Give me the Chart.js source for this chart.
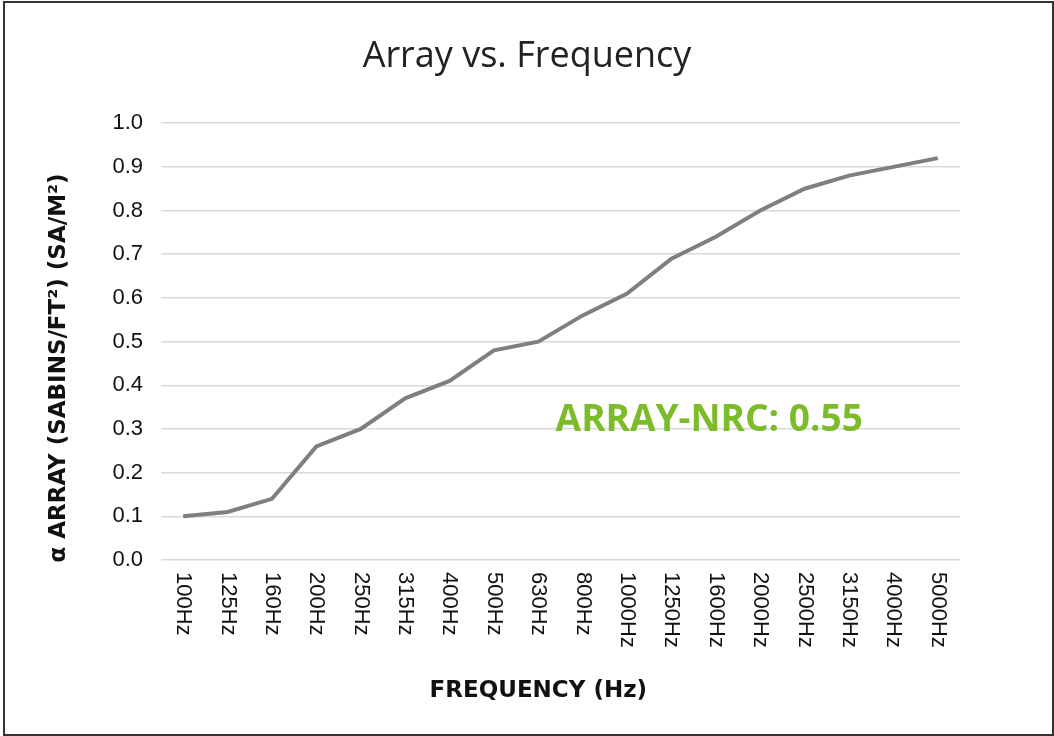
<!DOCTYPE html>
<html>
<head>
<meta charset="utf-8">
<script src="https://cdn.jsdelivr.net/npm/chart.js@4/dist/chart.umd.min.js"></script>
<style>
  html, body { margin: 0; padding: 0; background: #fff; }
  #wrap { position: relative; width: 1054px; height: 736px; }
  #frame { position: absolute; left: 3px; top: 1px; width: 1047px; height: 731px; border: 2px solid #333; pointer-events: none; }
  canvas { position: absolute; left: 0; top: 0; }
</style>
</head>
<body>
<div id="wrap">
  <canvas id="c" width="1054" height="736"></canvas>
  <div id="frame"></div>
</div>
<script>
const categories = ["100Hz","125Hz","160Hz","200Hz","250Hz","315Hz","400Hz","500Hz","630Hz","800Hz","1000Hz","1250Hz","1600Hz","2000Hz","2500Hz","3150Hz","4000Hz","5000Hz"];
const arrayValues = [0.10,0.11,0.14,0.26,0.30,0.37,0.41,0.48,0.50,0.56,0.61,0.69,0.74,0.80,0.85,0.88,0.90,0.92];
const titleText = "Array vs. Frequency";
const xTitle = "FREQUENCY (Hz)";
const yTitle = "\u03B1 ARRAY (SABINS/FT\u00B2) (SA/M\u00B2)";
const nrcText = "ARRAY-NRC: 0.55";
const nrcAnchor = { x: 11.85, y: 0.32 };
const xTitleAnchor = 8;

const axisTitleFont = 'bold 23px "DejaVu Sans", sans-serif';

const customText = {
  id: 'customText',
  afterDraw(chart) {
    const ctx = chart.ctx;
    const xs = chart.scales.x;
    const ys = chart.scales.y;
    ctx.save();
    ctx.fillStyle = '#111';
    ctx.font = '22px "Liberation Sans", Arial, sans-serif';
    ctx.textAlign = 'left';
    ctx.textBaseline = 'middle';
    categories.forEach((lab, i) => {
      const px = xs.getPixelForValue(i);
      ctx.save();
      ctx.translate(px, chart.chartArea.bottom + 12);
      ctx.rotate(Math.PI / 2);
      ctx.fillText(lab, 0, 0);
      ctx.restore();
    });
    ctx.font = axisTitleFont;
    ctx.textAlign = 'center';
    ctx.textBaseline = 'middle';
    ctx.fillText(xTitle, xs.getPixelForValue(xTitleAnchor), xs.bottom - 12);
    ctx.save();
    ctx.translate(ys.left + 14, chart.height / 2);
    ctx.rotate(-Math.PI / 2);
    ctx.fillText(yTitle, 0, 0);
    ctx.restore();
    ctx.restore();
  }
};

const nrcLabel = {
  id: 'nrcLabel',
  afterDatasetsDraw(chart) {
    const ctx = chart.ctx;
    const px = chart.scales.x.getPixelForValue(nrcAnchor.x);
    const py = chart.scales.y.getPixelForValue(nrcAnchor.y);
    ctx.save();
    ctx.fillStyle = '#7cbb2a';
    ctx.font = 'bold 37px "Open Sans", Lato, sans-serif';
    ctx.textAlign = 'center';
    ctx.textBaseline = 'middle';
    ctx.fillText(nrcText, px, py);
    ctx.restore();
  }
};

new Chart(document.getElementById('c'), {
  type: 'line',
  data: {
    labels: categories,
    datasets: [{
      data: arrayValues,
      borderColor: '#7f7f7f',
      borderWidth: 4,
      pointRadius: 0,
      tension: 0,
      fill: false
    }]
  },
  options: {
    responsive: false,
    animation: false,
    layout: { padding: { left: 45, right: 45, top: 0, bottom: 33 } },
    plugins: {
      legend: { display: false },
      tooltip: { enabled: false },
      title: {
        display: true,
        text: titleText,
        color: '#222',
        font: { family: '"Open Sans", Lato, sans-serif', size: 36, weight: 'normal', lineHeight: 1.2 },
        padding: { top: 35, bottom: 45 }
      }
    },
    scales: {
      x: {
        type: 'category',
        offset: true,
        grid: { display: false },
        border: { display: false },
        ticks: { display: false },
        afterFit(scale) { scale.height = 143; }
      },
      y: {
        min: 0,
        max: 1,
        ticks: {
          stepSize: 0.1,
          padding: 18,
          color: '#111',
          font: { family: '"Liberation Sans", Arial, sans-serif', size: 22 },
          callback: (v) => Number(v).toFixed(1)
        },
        grid: { color: '#d9d9d9', lineWidth: 1.5, drawTicks: false },
        border: { display: false },
        afterFit(scale) { scale.width = 116; }
      },
      yRight: {
        position: 'right',
        min: 0,
        max: 1,
        grid: { display: false },
        border: { display: false },
        ticks: { display: false },
        afterFit(scale) { scale.width = 49; }
      }
    }
  },
  plugins: [customText, nrcLabel]
});
</script>
</body>
</html>
